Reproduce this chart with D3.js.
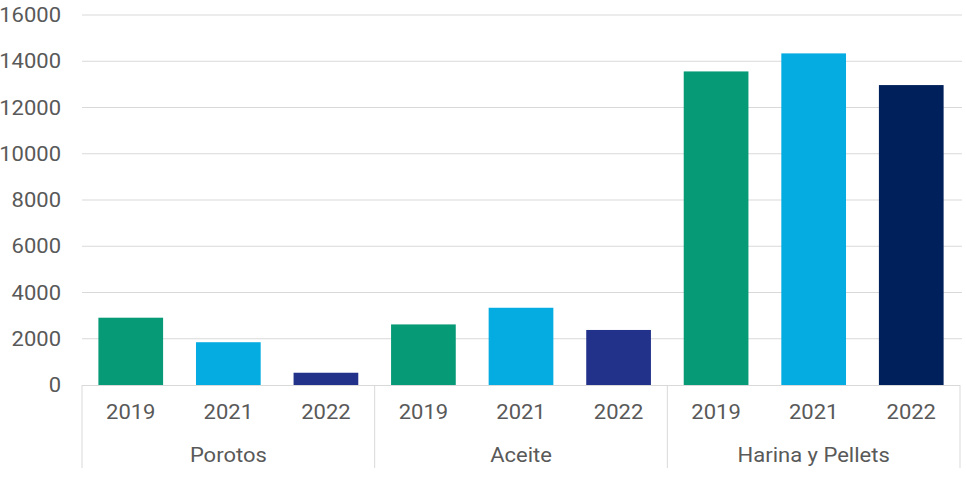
<!DOCTYPE html>
<html><head><meta charset="utf-8">
<script src="https://cdn.jsdelivr.net/npm/d3@7"></script>
<style>body{margin:0;background:#fff}svg{display:block}text{font-family:Roboto,sans-serif;fill:#595959}</style>
</head><body><svg id="c" width="966" height="477"></svg>
<script>
const categories = ["Porotos", "Aceite", "Harina y Pellets"];
const years = ["2019", "2021", "2022"];
const values2019 = [2910, 2620, 13560];
const values2021 = [1850, 3340, 14340];
const values2022 = [530, 2380, 12970];
const yTicks = [0, 2000, 4000, 6000, 8000, 10000, 12000, 14000, 16000];
const colors2019 = ["#079A77", "#079A77", "#079A77"];
const colors2021 = ["#05ACE2", "#05ACE2", "#05ACE2"];
const colors2022 = ["#22318A", "#22318A", "#00205B"];

(function () {
const series = [values2019, values2021, values2022];
const seriesColors = [colors2019, colors2021, colors2022];
const data = [];
categories.forEach((c, ci) => years.forEach((yr, yi) => data.push({c, yr, v: series[yi][ci], color: seriesColors[yi][ci]})));

const svg = d3.select("#c");
const mLeft = 82, mRight = 960, mTop = 15, mBottom = 385;
const sx = 1.1;
const y = d3.scaleLinear().domain([0, 16000]).range([mBottom, mTop]);
const x0 = d3.scaleBand().domain(categories).range([mLeft, mRight]).padding(0);
const x1 = d3.scaleBand().domain(years).range([0, x0.bandwidth()]).paddingInner(0.337).paddingOuter(0.168);

svg.append("g").selectAll("line").data(yTicks.filter(d => d > 0)).join("line")
  .attr("x1", mLeft).attr("x2", mRight + 2).attr("y1", d => y(d)).attr("y2", d => y(d))
  .attr("stroke", "#d9d9d9").attr("stroke-width", 1);

svg.append("g").selectAll("text").data(yTicks).join("text")
  .attr("transform", d => `translate(61,${y(d)}) scale(${sx},1)`)
  .attr("dy", "0.35em").attr("text-anchor", "end")
  .attr("font-size", 20).text(d => d3.format("d")(d));

svg.append("g").selectAll("rect").data(data).join("rect")
  .attr("x", d => x0(d.c) + x1(d.yr))
  .attr("width", x1.bandwidth())
  .attr("y", d => y(d.v))
  .attr("height", d => y(0) - y(d.v))
  .attr("fill", d => d.color);

svg.append("line").attr("x1", mLeft).attr("x2", mRight).attr("y1", mBottom + 0.5).attr("y2", mBottom + 0.5)
  .attr("stroke", "#d9d9d9");

const seps = categories.map(c => x0(c)).concat([mRight]);
svg.append("g").selectAll("line").data(seps).join("line")
  .attr("x1", d => d).attr("x2", d => d).attr("y1", mBottom).attr("y2", 468)
  .attr("stroke", "#d9d9d9");

svg.append("g").selectAll("text").data(data).join("text")
  .attr("transform", d => `translate(${x0(d.c) + x1(d.yr) + x1.bandwidth() / 2},412) scale(${sx},1)`)
  .attr("dy", "0.35em").attr("text-anchor", "middle")
  .attr("font-size", 20).text(d => d.yr);

svg.append("g").selectAll("text").data(categories).join("text")
  .attr("transform", d => `translate(${x0(d) + x0.bandwidth() / 2},455) scale(${sx},1)`)
  .attr("dy", "0.35em").attr("text-anchor", "middle")
  .attr("font-size", 20).text(d => d);
})();
</script></body></html>
